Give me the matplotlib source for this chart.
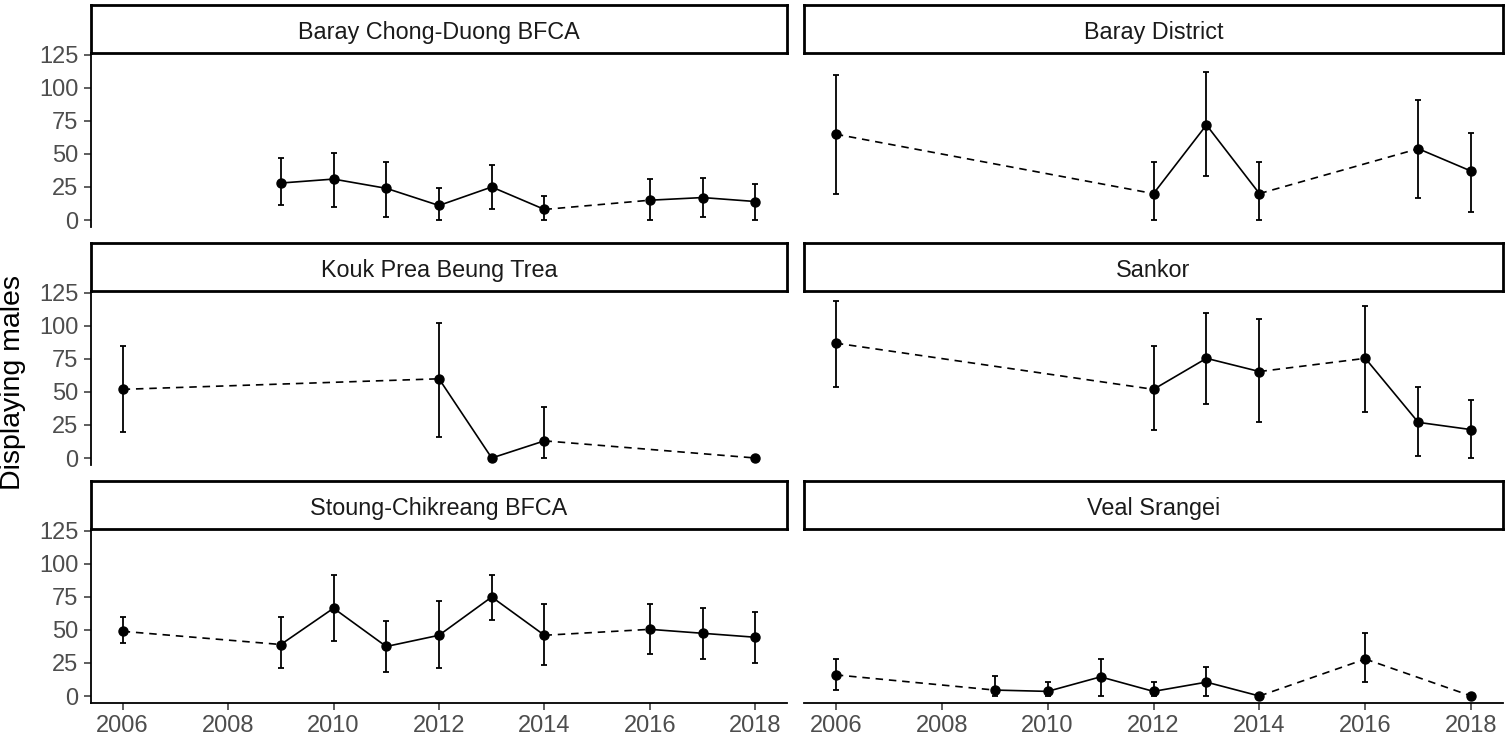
import numpy as np
import matplotlib
matplotlib.use("Agg")
import matplotlib.pyplot as plt

plt.rcParams["font.family"] = ["Liberation Sans", "DejaVu Sans"]

# =====================================================
# DATA
# =====================================================
sites = [
    "Baray Chong-Duong BFCA",
    "Baray District",
    "Kouk Prea Beung Trea",
    "Sankor",
    "Stoung-Chikreang BFCA",
    "Veal Srangei",
]

bcd_years = [2009, 2010, 2011, 2012, 2013, 2014, 2016, 2017, 2018]
bcd_mean = [28, 31, 24, 11, 25, 8, 15, 17, 14]
bcd_low = [11, 10, 2.5, 0, 8.5, 0, 0, 2, 0]
bcd_high = [47, 51, 44, 24, 42, 18, 31, 32, 27]

bd_years = [2006, 2012, 2013, 2014, 2017, 2018]
bd_mean = [65, 20, 72, 20, 54, 37]
bd_low = [20, 0, 33, 0, 17, 6]
bd_high = [110, 44, 112, 44, 91, 66]

kp_years = [2006, 2012, 2013, 2014, 2018]
kp_mean = [52, 60, 0, 13, 0]
kp_low = [20, 16, 0, 0, 0]
kp_high = [85, 102, 0, 38.5, 0]

sk_years = [2006, 2012, 2013, 2014, 2016, 2017, 2018]
sk_mean = [87, 52, 75.5, 65.5, 75.5, 27, 21.5]
sk_low = [54, 21, 41, 27, 35, 1.5, 0]
sk_high = [119, 85, 110, 105, 115, 54, 44]

sc_years = [2006, 2009, 2010, 2011, 2012, 2013, 2014, 2016, 2017, 2018]
sc_mean = [49, 39, 66.5, 37.5, 46, 75, 46, 50.5, 47.5, 44.5]
sc_low = [40.5, 21, 42, 18, 21, 57.5, 23.5, 32, 28, 25]
sc_high = [59.5, 59.5, 92, 56.5, 72, 92, 69.5, 69.5, 66.5, 63.5]

vs_years = [2006, 2009, 2010, 2011, 2012, 2013, 2014, 2016, 2018]
vs_mean = [16, 4.5, 3.5, 14.5, 3.5, 10.5, 0, 28, 0]
vs_low = [4.5, 0, 0, 0, 0, 0, 0, 10.5, 0]
vs_high = [28, 15, 10.5, 28, 10.5, 22, 0, 48, 0]

series = [
    (bcd_years, bcd_mean, bcd_low, bcd_high),
    (bd_years, bd_mean, bd_low, bd_high),
    (kp_years, kp_mean, kp_low, kp_high),
    (sk_years, sk_mean, sk_low, sk_high),
    (sc_years, sc_mean, sc_low, sc_high),
    (vs_years, vs_mean, vs_low, vs_high),
]

y_ticks = [0, 25, 50, 75, 100, 125]
x_ticks = [2006, 2008, 2010, 2012, 2014, 2016, 2018]

# =====================================================
# LAYOUT (pixels, top-left origin)
# =====================================================
W, H = 1505, 741
fig = plt.figure(figsize=(W / 100, H / 100), dpi=100)

col_x = [(91, 787), (804, 1503)]
row_y = [(5, 53, 227), (243, 291, 465), (481, 529, 703)]


def px_axes(x0, y0, x1, y1):
    return fig.add_axes([x0 / W, 1 - y1 / H, (x1 - x0) / W, (y1 - y0) / H])


for i, (site, (yrs, mean, low, high)) in enumerate(zip(sites, series)):
    r, c = divmod(i, 2)
    x0, x1 = col_x[c]
    s_top, p_top, p_bot = row_y[r]

    # -----------------------------------------
    # panel
    # -----------------------------------------
    ax = px_axes(x0, p_top, x1, p_bot)
    ax.patch.set_visible(False)
    yrs = np.array(yrs)
    mean = np.array(mean)
    for k in range(len(yrs) - 1):
        ls = "-" if yrs[k + 1] - yrs[k] == 1 else (0, (4.5, 3.5))
        ax.plot(yrs[k:k + 2], mean[k:k + 2], color="black",
                linewidth=1.2, linestyle=ls)
    ax.errorbar(yrs, mean,
                yerr=[mean - np.array(low), np.array(high) - mean],
                fmt="o", color="black", markersize=6.5,
                elinewidth=1.3, capsize=2.5, capthick=1.3)

    ax.set_xlim(2005.4, 2018.6)
    ax.set_ylim(-5.3, 126.5)
    for sp in ["top", "right"]:
        ax.spines[sp].set_visible(False)
    ax.spines["left"].set_linewidth(1.3)
    ax.spines["bottom"].set_linewidth(1.3)

    if c == 0:
        ax.set_yticks(y_ticks)
        ax.tick_params(axis="y", labelsize=17, labelcolor="#4D4D4D",
                       color="#333333", length=5, width=1.1, pad=4)
    else:
        ax.spines["left"].set_visible(False)
        ax.set_yticks([])

    if r == 2:
        ax.set_xticks(x_ticks)
        ax.tick_params(axis="x", labelsize=17, labelcolor="#4D4D4D",
                       color="#333333", length=5, width=1.1, pad=4)
    else:
        ax.spines["bottom"].set_visible(False)
        ax.set_xticks([])

    # -----------------------------------------
    # strip (drawn on top of the panel edge)
    # -----------------------------------------
    sax = px_axes(x0, s_top, x1, p_top)
    sax.set_xticks([])
    sax.set_yticks([])
    for sp in sax.spines.values():
        sp.set_linewidth(2.0)
        sp.set_color("black")
    sax.text(0.5, 0.42, site, ha="center", va="center",
             transform=sax.transAxes, fontsize=16.8, color="#1A1A1A")

fig.text(13 / W, 1 - 382 / H, "Displaying males", rotation=90,
         ha="center", va="center", fontsize=20.5, color="black")

fig.savefig("out.png", dpi=100)
